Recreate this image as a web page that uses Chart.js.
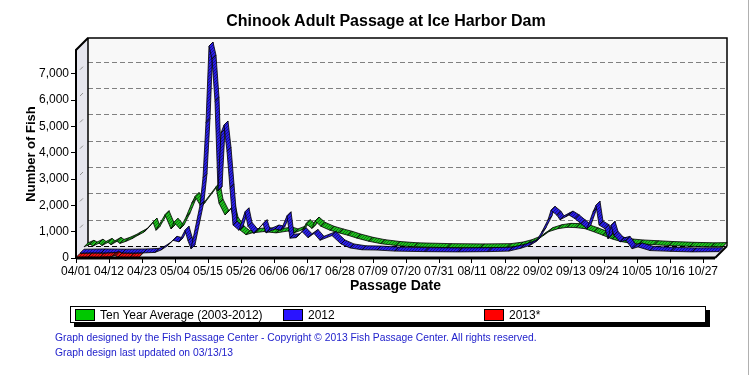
<!DOCTYPE html>
<html>
<head>
<meta charset="utf-8">
<script src="https://cdn.jsdelivr.net/npm/chart.js@4.4.1/dist/chart.umd.min.js"></script>
<style>
  html, body { margin: 0; padding: 0; background: #fff; }
  #wrap { position: relative; width: 750px; height: 375px; overflow: hidden; font-family: Arial, "Liberation Sans", sans-serif; }
  #wrap::after { content: ''; position: absolute; right: 1px; top: 0; width: 1px; height: 375px; background: #b0b0b0; }
  #fish-chart { position: absolute; left: 0; top: 0; }
  #title { position: absolute; left: 0; top: 12px; width: 772px; text-align: center; font-size: 16px; font-weight: bold; color: #000; }
  #legend { position: absolute; left: 70px; top: 306px; width: 634px; height: 15px; border: 1px solid #000; background: #fff; box-shadow: 4px 4px 0 #000; }
  #legend ul { list-style: none; margin: 0; padding: 0; }
  #legend li { position: absolute; top: 2px; display: flex; align-items: center; font-size: 12px; line-height: 12px; color: #000; }
  #legend .box { display: block; width: 18px; height: 10px; border: 1px solid #000; margin-right: 5px; }
  .footer { position: absolute; left: 55px; font-size: 10.3px; color: #2222cc; white-space: nowrap; }
</style>
</head>
<body>
<div id="wrap">
  <canvas id="fish-chart" width="750" height="375"></canvas>
  <div id="title">Chinook Adult Passage at Ice Harbor Dam</div>
  <div id="legend"><ul></ul></div>
  <div class="footer" style="top:332px">Graph designed by the Fish Passage Center - Copyright © 2013 Fish Passage Center. All rights reserved.</div>
  <div class="footer" style="top:347px">Graph design last updated on 03/13/13</div>
</div>
<script>
// Values (dates are MM/DD, fish per day)
const avgDates = ['04/01', '04/03', '04/04', '04/06', '04/07', '04/09', '04/10', '04/12', '04/13', '04/15',
  '04/17', '04/19', '04/21', '04/22', '04/24', '04/25', '04/28', '04/30', '05/01', '05/03',
  '05/05', '05/07', '05/08', '05/10', '05/15', '05/16', '05/18', '05/20', '05/21', '05/23',
  '05/25', '05/27', '05/31', '06/04', '06/08', '06/10', '06/13', '06/14', '06/16', '06/17',
  '06/19', '06/22', '06/25', '06/28', '07/01', '07/05', '07/09', '07/14', '07/20', '07/31',
  '08/11', '08/20', '08/24', '08/27', '08/30', '09/01', '09/03', '09/06', '09/09', '09/12',
  '09/15', '09/18', '09/21', '09/24', '09/27', '09/30', '10/03', '10/08', '10/13', '10/20',
  '10/27', '10/31'];
const avgFish = [120, 220, 150, 260, 170, 290, 200, 330, 250, 330,
  430, 560, 680, 800, 1060, 750, 1340, 800, 1050, 800,
  1250, 1800, 2030, 1650, 2400, 1780, 1330, 1590, 1100, 760,
  580, 650, 700, 650, 720, 650, 780, 1000, 820, 1100,
  900, 750, 650, 560, 450, 330, 240, 170, 120, 90,
  80, 90, 150, 240, 380, 540, 700, 810, 860, 850,
  810, 690, 560, 420, 320, 260, 230, 200, 170, 140,
  120, 130];

const dates2012 = ['04/01', '04/08', '04/15', '04/22', '04/26', '04/28', '04/30', '05/02', '05/04', '05/06',
  '05/07', '05/08', '05/11', '05/12', '05/13', '05/14', '05/15', '05/16', '05/17', '05/18',
  '05/19', '05/20', '05/21', '05/22', '05/24', '05/26', '05/27', '05/29', '06/01', '06/02',
  '06/05', '06/07', '06/09', '06/10', '06/12', '06/14', '06/16', '06/18', '06/20', '06/24',
  '06/27', '06/30', '07/04', '07/09', '07/15', '07/25', '08/05', '08/15', '08/22', '08/26',
  '08/29', '08/31', '09/02', '09/04', '09/05', '09/07', '09/08', '09/10', '09/11', '09/13',
  '09/15', '09/17', '09/19', '09/20', '09/21', '09/23', '09/24', '09/25', '09/26', '09/28',
  '09/30', '10/02', '10/04', '10/08', '10/15', '10/22', '10/31'];
const fish2012 = [30, 40, 30, 40, 60, 150, 300, 520, 460, 900,
  500, 200, 1850, 2900, 5000, 7900, 7400, 5800, 2400, 4600,
  4900, 3900, 2500, 1100, 900, 1600, 1050, 780, 1150, 800,
  950, 900, 1450, 600, 620, 850, 620, 780, 520, 700,
  380, 230, 160, 150, 110, 90, 80, 90, 110, 220,
  330, 470, 850, 1300, 1660, 1470, 1300, 1420, 1480, 1340,
  1150, 960, 1600, 1850, 1100, 960, 580, 1090, 710, 460,
  520, 200, 270, 130, 100, 80, 90];

const dates2013 = ['04/01', '04/05', '04/09', '04/13', '04/14', '04/15', '04/19', '04/22'];
const fish2013 = [20, 30, 20, 60, 90, 30, 20, 30];

const xTickLabels = ['04/01', '04/12', '04/23', '05/04', '05/15', '05/26', '06/06', '06/17', '06/28', '07/09',
  '07/20', '07/31', '08/11', '08/22', '09/02', '09/13', '09/24', '10/05', '10/16', '10/27'];
const yTicks = [0, 1000, 2000, 3000, 4000, 5000, 6000, 7000];

// Day index counted from 04/01
const months = [['04', 0], ['05', 30], ['06', 61], ['07', 91], ['08', 122], ['09', 153], ['10', 183]];
const dayOf = (d) => months.find((m) => m[0] === d.slice(0, 2))[1] + Number(d.slice(3)) - 1;
const labelOf = (day) => {
  const m = months.filter((mm) => mm[1] <= day).pop();
  return m[0] + '/' + String(day - m[1] + 1).padStart(2, '0');
};
const toPoints = (ds, vs) => ds.map((d, i) => ({ x: dayOf(d), y: vs[i] }));

const DEPTH = 12; // depth of the 3D box
const BAND = 4;   // depth of each ribbon

function stripes(color) {
  const c = document.createElement('canvas');
  c.width = 3;
  c.height = 3;
  const p = c.getContext('2d');
  p.fillStyle = color;
  p.fillRect(0, 0, 3, 3);
  p.strokeStyle = 'rgba(0,0,0,0.5)';
  p.lineWidth = 0.8;
  p.beginPath();
  p.moveTo(-1, 4);
  p.lineTo(4, -1);
  p.stroke();
  return document.getElementById('fish-chart').getContext('2d').createPattern(c, 'repeat');
}

// Walls, floor and dashed grid of the 3D box
const box3d = {
  id: 'box3d',
  beforeDatasetsDraw(c) {
    const { ctx, chartArea: { left: L, right: R, top: T, bottom: B } } = c;
    const y = c.scales.y;
    ctx.save();
    ctx.fillStyle = '#e6e6ee';
    ctx.beginPath();
    ctx.moveTo(L, B); ctx.lineTo(L, T); ctx.lineTo(L + DEPTH, T - DEPTH); ctx.lineTo(L + DEPTH, B - DEPTH);
    ctx.closePath(); ctx.fill();
    ctx.beginPath();
    ctx.moveTo(L, B); ctx.lineTo(R, B); ctx.lineTo(R + DEPTH, B - DEPTH); ctx.lineTo(L + DEPTH, B - DEPTH);
    ctx.closePath(); ctx.fill();
    ctx.fillStyle = '#f8f8f8';
    ctx.fillRect(L + DEPTH, T - DEPTH, R - L, B - T);
    // dashed grid on the back wall
    ctx.lineWidth = 1;
    ctx.setLineDash([5, 3]);
    yTicks.forEach((v) => {
      const py = Math.round(y.getPixelForValue(v) - DEPTH) + 0.5;
      ctx.strokeStyle = v === 0 ? '#000' : '#808080';
      ctx.beginPath();
      ctx.moveTo(L + DEPTH, py); ctx.lineTo(R + DEPTH, py);
      ctx.stroke();
    });
    ctx.setLineDash([]);
    // short slanted marks on the side wall
    ctx.strokeStyle = '#909090';
    yTicks.slice(1).forEach((v) => {
      const py = y.getPixelForValue(v);
      ctx.beginPath();
      ctx.moveTo(L + 4, py - 4); ctx.lineTo(L + 7, py - 7);
      ctx.stroke();
    });
    // back wall outline
    ctx.strokeStyle = '#000';
    ctx.lineWidth = 1.5;
    ctx.beginPath();
    ctx.moveTo(L + DEPTH, B - DEPTH); ctx.lineTo(L + DEPTH, T - DEPTH);
    ctx.lineTo(R + DEPTH, T - DEPTH); ctx.lineTo(R + DEPTH, B - DEPTH);
    ctx.stroke();
    ctx.restore();
  },
  afterDatasetsDraw(c) {
    const { ctx } = c;
    ctx.save();
    ctx.lineJoin = 'round';
    c.data.datasets.forEach((ds, i) => {
      const pts = c.getDatasetMeta(i).data;
      const d0 = ds.depth, d1 = ds.depth + BAND;
      ctx.fillStyle = stripes(ds.ribbonColor);
      ctx.strokeStyle = '#000';
      ctx.lineWidth = 0.8;
      for (let k = 0; k < pts.length - 1; k++) {
        const a = pts[k], b = pts[k + 1];
        ctx.beginPath();
        ctx.moveTo(a.x + d0, a.y - d0);
        ctx.lineTo(b.x + d0, b.y - d0);
        ctx.lineTo(b.x + d1, b.y - d1);
        ctx.lineTo(a.x + d1, a.y - d1);
        ctx.closePath();
        ctx.fill();
        ctx.stroke();
      }
    });
    ctx.restore();
  },
  afterDraw(c) {
    const { ctx, chartArea: { left: L, right: R, top: T, bottom: B } } = c;
    ctx.save();
    ctx.strokeStyle = '#000';
    ctx.lineWidth = 2;
    ctx.beginPath();
    ctx.moveTo(L + DEPTH, T - DEPTH); ctx.lineTo(L, T); ctx.lineTo(L, B + 1);
    ctx.stroke();
    ctx.lineWidth = 3;
    ctx.beginPath();
    ctx.moveTo(L, B); ctx.lineTo(R, B);
    ctx.stroke();
    ctx.lineWidth = 2;
    ctx.beginPath();
    ctx.moveTo(R, B); ctx.lineTo(R + DEPTH, B - DEPTH);
    ctx.stroke();
    ctx.restore();
  },
};

const htmlLegend = {
  id: 'htmlLegend',
  afterUpdate(c) {
    const ul = document.querySelector('#legend ul');
    while (ul.firstChild) ul.firstChild.remove();
    const offsets = [4, 212, 413];
    c.data.datasets.forEach((ds, i) => {
      const li = document.createElement('li');
      li.style.left = offsets[i] + 'px';
      const box = document.createElement('span');
      box.className = 'box';
      box.style.background = ds.legendColor;
      li.appendChild(box);
      li.appendChild(document.createTextNode(ds.label));
      ul.appendChild(li);
    });
  },
};

Chart.defaults.font.family = 'Arial, "Liberation Sans", sans-serif';
Chart.defaults.color = '#000';

new Chart(document.getElementById('fish-chart'), {
  type: 'line',
  data: {
    datasets: [
      {
        label: 'Ten Year Average (2003-2012)',
        data: toPoints(avgDates, avgFish),
        depth: 8,
        ribbonColor: '#1ec01e',
        legendColor: '#00c800',
        borderWidth: 0,
        borderColor: 'transparent',
        pointRadius: 0,
      },
      {
        label: '2012',
        data: toPoints(dates2012, fish2012),
        depth: 4,
        ribbonColor: '#2a1ee8',
        legendColor: '#2a14ff',
        borderWidth: 0,
        borderColor: 'transparent',
        pointRadius: 0,
      },
      {
        label: '2013*',
        data: toPoints(dates2013, fish2013),
        depth: 0,
        ribbonColor: '#ee1010',
        legendColor: '#ff0000',
        borderWidth: 0,
        borderColor: 'transparent',
        pointRadius: 0,
      },
    ],
  },
  options: {
    responsive: false,
    animation: false,
    devicePixelRatio: 1,
    layout: { padding: { top: 50, right: 35, bottom: 75, left: 0 } },
    scales: {
      x: {
        type: 'linear',
        min: 0,
        max: 213,
        afterBuildTicks: (s) => { s.ticks = xTickLabels.map((d) => ({ value: dayOf(d) })); },
        afterFit: (s) => { s.height = 42; },
        border: { display: false },
        grid: { drawOnChartArea: false, tickLength: 5, color: '#000' },
        ticks: { autoSkip: false, maxRotation: 0, padding: 1, font: { size: 12 }, callback: (v) => labelOf(v) },
        title: { display: true, text: 'Passage Date', font: { size: 14, weight: 'bold' }, padding: { top: 0, bottom: 5 } },
      },
      y: {
        min: 0,
        max: 7900,
        afterBuildTicks: (s) => { s.ticks = yTicks.map((v) => ({ value: v })); },
        afterFit: (s) => { s.width = 76; },
        border: { display: false },
        grid: { drawOnChartArea: false, tickLength: 5, color: '#000' },
        ticks: { padding: 2, font: { size: 12 }, callback: (v) => v.toLocaleString('en-US') },
        title: { display: true, text: 'Number of Fish', font: { size: 13, weight: 'bold' }, padding: { top: 24, bottom: 0 } },
      },
    },
    plugins: {
      legend: { display: false },
      tooltip: { enabled: false },
    },
  },
  plugins: [box3d, htmlLegend],
});
</script>
</body>
</html>
